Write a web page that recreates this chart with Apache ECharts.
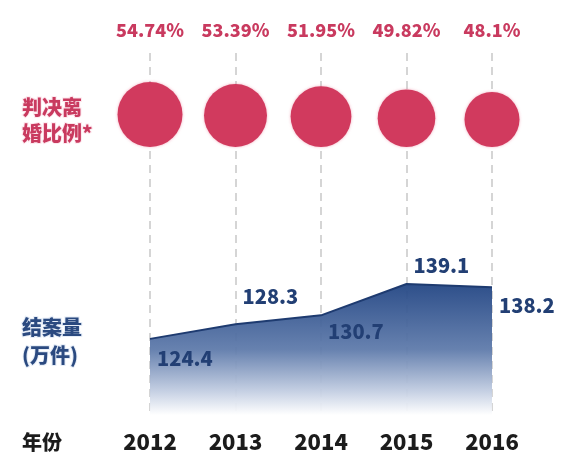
<!DOCTYPE html>
<html>
<head>
<meta charset="utf-8">
<script src="https://cdn.jsdelivr.net/npm/echarts@6/dist/echarts.min.js"></script>
<style>
html,body{margin:0;padding:0;background:#fff;}
#main{width:573px;height:476px;}
</style>
</head>
<body>
<div id="main"></div>
<script>
// ---- data ----
const years = ['2012', '2013', '2014', '2015', '2016'];
const divorceRatio = [54.74, 53.39, 51.95, 49.82, 48.1];   // 判决离婚比例 (%)
const caseloads = [124.4, 128.3, 130.7, 139.1, 138.2];     // 结案量 (万件)
const ratioRowLabel = '判决离\n婚比例*';
const caseloadLabel = ['结案量', '(万件)'];
const yearRowLabel = '年份';

// ---- styling helpers (not data) ----
const labelOffsetY = [20, -28, 16, -19, 18];
const bubbleSize = v => 55 + (v - 48.1) * 1.5;
const FONT = '"Noto Sans CJK SC", "Noto Sans", sans-serif';
const RED = '#c93a5f';
const NAVY = '#223f74';

const chart = echarts.init(document.getElementById('main'), null, {renderer: 'canvas'});

const lineData = caseloads.map((v, i) => ({
  value: v,
  label: {offset: [0, labelOffsetY[i]]}
}));

const bubbleData = divorceRatio.map((v, i) => {
  const s = bubbleSize(v);
  return {
    value: [years[i], ratioRowLabel, v],
    symbolSize: s,
    symbolOffset: [0, 27 - s / 2]
  };
});

chart.setOption({
  animation: false,
  backgroundColor: '#ffffff',
  textStyle: {fontFamily: FONT},
  grid: [
    {left: 150, right: 81, top: 53, bottom: 61},
    {left: 150, right: 81, top: 100, height: 40}
  ],
  xAxis: [
    {
      gridIndex: 0, type: 'category', data: years, boundaryGap: false, position: 'bottom',
      axisLine: {show: false}, axisTick: {show: false},
      axisLabel: {interval: 0, fontSize: 22, fontWeight: 900, color: '#1c1c1c', margin: 16, fontFamily: FONT},
      splitLine: {show: true, interval: 0, lineStyle: {type: [8, 6], color: '#c8c8c8', width: 1.5}}
    },
    {
      gridIndex: 0, type: 'category', data: years, boundaryGap: false, position: 'top',
      axisLine: {show: false}, axisTick: {show: false}, splitLine: {show: false},
      axisLabel: {
        interval: 0, hideOverlap: false,
        formatter: (v, i) => divorceRatio[i] + '%',
        fontSize: 18, fontWeight: 900, color: RED, margin: 14, fontFamily: FONT
      }
    },
    {gridIndex: 1, type: 'category', data: years, boundaryGap: false, show: false}
  ],
  yAxis: [
    {gridIndex: 0, type: 'value', min: 104, max: 201, show: false},
    {
      gridIndex: 1, type: 'category', data: [ratioRowLabel],
      axisLine: {show: false}, axisTick: {show: false}, splitLine: {show: false},
      axisLabel: {
        align: 'left', margin: 128, fontSize: 20, fontWeight: 900, lineHeight: 26,
        color: RED, fontFamily: FONT,
        textBorderColor: '#fde8ee', textBorderWidth: 2
      }
    }
  ],
  graphic: [
    {type: 'text', x: 22, y: 327, style: {text: caseloadLabel[0], font: '900 20px ' + FONT, fill: '#2b4a80', verticalAlign: 'middle', stroke: '#e6edf7', lineWidth: 2}},
    {type: 'text', x: 22, y: 355, style: {text: caseloadLabel[1], font: '900 20px ' + FONT, fill: '#2b4a80', verticalAlign: 'middle', stroke: '#e6edf7', lineWidth: 2}},
    {type: 'text', x: 22, y: 442, style: {text: yearRowLabel, font: '900 20px ' + FONT, fill: '#1c1c1c', verticalAlign: 'middle'}}
  ],
  series: [
    {
      type: 'line', xAxisIndex: 0, yAxisIndex: 0, data: lineData,
      symbol: 'circle', symbolSize: 0.1, showSymbol: true,
      itemStyle: {color: '#1e3b70'},
      lineStyle: {color: '#1e3b70', width: 2},
      areaStyle: {
        opacity: 0.95,
        color: new echarts.graphic.LinearGradient(0, 0, 0, 1, [
          {offset: 0, color: '#234684'},
          {offset: 0.5, color: '#5f7bab'},
          {offset: 0.82, color: '#c3cee2'},
          {offset: 1, color: '#ffffff'}
        ])
      },
      label: {
        show: true, position: 'right', distance: 7,
        fontSize: 20, fontWeight: 900, color: NAVY, fontFamily: FONT,
        formatter: p => p.value
      },
      z: 2
    },
    {
      type: 'scatter', xAxisIndex: 2, yAxisIndex: 1, data: bubbleData,
      itemStyle: {color: '#d13a5e', opacity: 1, shadowBlur: 3, shadowColor: 'rgba(235,120,150,0.6)'},
      z: 3
    }
  ]
});
</script>
</body>
</html>
